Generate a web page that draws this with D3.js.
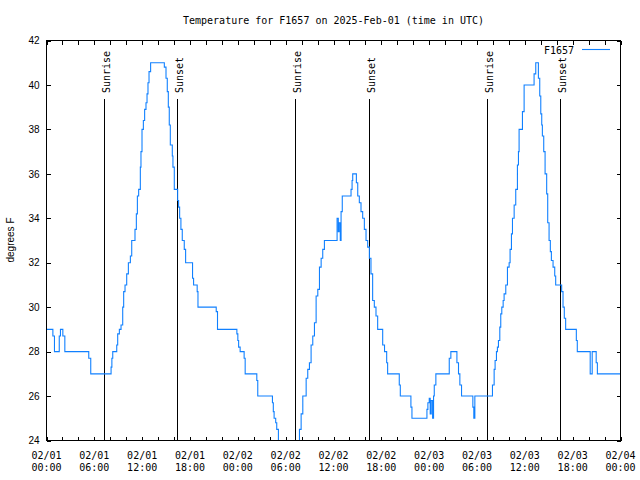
<!DOCTYPE html>
<html><head><meta charset="utf-8">
<script src="https://cdn.jsdelivr.net/npm/d3@7"></script>
<style>body{margin:0;background:#fff}</style>
</head><body>
<svg id="c" width="640" height="480"></svg>
<script>
const chartTitle = "Temperature for F1657 on 2025-Feb-01 (time in UTC)";
const seriesName = "F1657";
const yAxisLabel = "degrees F";
const startUTC = Date.UTC(2025, 1, 1, 0, 0, 0);
// hours since 02/01 00:00 UTC at which the reading changes, and the reading
const hours = [0,0.8,1.0,1.6,1.75,2.05,2.3,5.3,5.55,8.10,8.2,8.31,8.81,8.93,9.14,9.35,9.56,9.68,9.85,10.06,10.27,10.52,10.69,11.10,11.27,11.40,11.56,11.77,11.85,11.98,12.15,12.31,12.48,12.61,12.73,12.86,13.06,
14.78,14.99,15.15,15.28,15.40,15.53,15.78,15.86,16.03,16.45,16.57,16.70,16.86,17.03,17.28,17.45,18.32,18.45,18.9,19.0,21.29,21.45,23.88,24.0,24.1,24.29,24.79,24.92,26.38,26.5,28.34,28.45,28.55,28.75,28.88,29.09,29.2,29.5,31.2,
31.52,31.73,31.94,32.15,32.57,32.77,32.98,33.19,33.40,33.61,33.82,34.03,34.24,34.45,34.65,34.86,36.45,36.6,36.7,36.85,36.95,37.1,38.20,38.33,38.41,38.87,39.04,39.24,39.45,39.66,39.87,40.08,40.29,40.50,40.70,40.91,41.12,41.33,41.54,
42.17,42.4,42.67,42.79,44.25,44.38,45.71,45.84,47.72,47.84,48.01,48.13,48.26,48.43,48.55,48.64,48.84,50.52,50.72,51.48,51.68,51.85,52.06,53.48,53.60,53.73,
55.94,56.15,56.27,56.44,56.56,56.69,56.86,56.98,57.11,57.28,57.40,57.61,57.82,58.03,58.15,58.32,58.45,58.66,58.86,59.07,59.20,59.28,59.70,59.91,61.16,61.37,61.70,61.87,62.00,62.12,62.20,62.37,62.54,62.74,62.87,63.04,63.20,63.33,63.54,63.75,63.87,
64.62,64.79,64.95,65.12,66.46,66.58,68.2,68.45,68.95,69.1,72];
const temps = [29,28.7,28,28.7,29,28.7,28,27.7,27,27.3,27.7,28,28.3,28.8,29.0,29.2,30.0,30.7,31.0,31.5,32.0,32.3,33.0,33.5,34.2,35.0,35.3,36.3,37.0,38.0,38.4,38.9,39.2,39.6,40.1,40.6,41.0,
40.8,40.3,39.7,39.0,38.2,37.3,36.8,36.3,35.3,34.8,34.5,34.0,33.5,33.0,32.6,32.0,31.3,31.0,30.7,30.0,29.8,29.0,28.8,28.5,28.2,28.0,27.7,27.0,26.7,26.0,25.7,25.3,25.0,24.8,24.5,24.0,23.5,23.0,23.5,
24.0,24.5,25.2,26.0,26.8,27.2,27.5,28.3,28.7,29.3,30.5,30.8,31.8,32.2,32.6,33.0,34.0,33.4,33.8,33.0,34.3,35.0,35.3,35.7,36.0,35.6,35.0,34.7,34.3,34.0,33.5,33.0,32.7,32.2,31.5,30.3,30.0,29.6,29.0,
28.3,28.0,27.5,27.0,26.5,26.0,25.5,25.0,25.4,25.7,25.9,25.2,25.8,25.0,26.0,26.5,27.0,27.7,28.0,27.5,27.0,26.5,26.0,25.5,25.0,26.0,
26.5,27.2,27.6,28.0,28.2,28.5,29.1,29.7,30.0,30.3,30.6,31.0,31.8,32.0,32.6,33.3,34.0,34.6,35.3,36.4,37.0,38.0,38.8,40.0,40.5,41.0,40.3,39.5,38.7,38.2,37.7,37.0,36.0,35.1,33.8,33.0,32.5,32.1,31.8,31.4,31.0,
30.7,30.0,29.5,29.0,28.5,28.0,27.0,28.0,27.5,27.0,27.0];
const sunriseHours = [7.25, 31.22, 55.2];
const sunsetHours = [16.42, 40.46, 64.47];
const yTicks = [24, 26, 28, 30, 32, 34, 36, 38, 40, 42];
const xTickHours = [0,2,4,6,8,10,12,14,16,18,20,22,24,26,28,30,32,34,36,38,40,42,44,46,48,50,52,54,56,58,60,62,64,66,68,70,72];
const xLabelHours = [0,6,12,18,24,30,36,42,48,54,60,66,72];

const H = 3600 * 1000;
const toDate = h => new Date(startUTC + h * H);
const svg = d3.select("#c");
const L = 46.5, R = 620.5, T = 40.5, B = 440.5;
const x = d3.scaleUtc().domain([toDate(0), toDate(72)]).range([L, R]);
const y = d3.scaleLinear().domain([24, 42]).range([B, T]);
const mono = "'DejaVu Sans Mono', monospace";
const sans = "'Liberation Sans', Arial, sans-serif";

svg.append("rect").attr("width", 640).attr("height", 480).attr("fill", "#fff");

const styleAxis = g => { g.select(".domain").remove(); g.selectAll("line").attr("stroke", "#000").attr("shape-rendering", "crispEdges"); };
const xt = xTickHours.map(toDate);
svg.append("g").attr("transform", `translate(0,${B})`).call(d3.axisBottom(x).tickValues(xt).tickSize(-4).tickFormat("")).call(styleAxis);
svg.append("g").attr("transform", `translate(0,${T})`).call(d3.axisTop(x).tickValues(xt).tickSize(-4).tickFormat("")).call(styleAxis);
svg.append("g").attr("transform", `translate(${R},0)`).call(d3.axisRight(y).tickValues(yTicks).tickSize(-4).tickFormat("")).call(styleAxis);
const ya = svg.append("g").attr("transform", `translate(${L},0)`).call(d3.axisLeft(y).tickValues(yTicks).tickSize(-4).tickPadding(7).tickFormat(d3.format("d"))).call(styleAxis);
ya.selectAll("text").attr("font-family", sans).attr("font-size", 10).attr("fill", "#000");

const fmtD = d3.utcFormat("%m/%d"), fmtT = d3.utcFormat("%H:%M");
const xl = svg.append("g").attr("font-family", mono).attr("font-size", 10).attr("text-anchor", "middle");
xLabelHours.forEach(h => {
  const d = toDate(h);
  xl.append("text").attr("x", x(d)).attr("y", 459).text(fmtD(d));
  xl.append("text").attr("x", x(d)).attr("y", 471).text(fmtT(d));
});

const sun = [...sunriseHours.map(h => ({h, label: "Sunrise"})), ...sunsetHours.map(h => ({h, label: "Sunset"}))];
sun.forEach(s => {
  const sx = Math.round(x(toDate(s.h))) + 0.5;
  svg.append("line").attr("x1", sx).attr("x2", sx).attr("y1", 99).attr("y2", B).attr("stroke", "#000").attr("shape-rendering", "crispEdges");
  svg.append("text").attr("transform", `translate(${sx + 5},93) rotate(-90)`).attr("font-family", mono).attr("font-size", 10).text(s.label);
});

svg.append("clipPath").attr("id", "pc").append("rect").attr("x", L).attr("y", T).attr("width", R - L).attr("height", B - T);
const pts = hours.map((h, i) => ({t: toDate(h), v: temps[i]}));
svg.append("path").datum(pts).attr("clip-path", "url(#pc)")
  .attr("fill", "none").attr("stroke", "#1080ff").attr("stroke-width", 1.1)
  .attr("d", d3.line().x(d => x(d.t)).y(d => y(d.v)).curve(d3.curveStepAfter));

svg.append("rect").attr("x", L).attr("y", T).attr("width", R - L).attr("height", B - T).attr("fill", "none").attr("stroke", "#000").attr("shape-rendering", "crispEdges");

svg.append("text").attr("x", (L + R) / 2).attr("y", 24).attr("text-anchor", "middle").attr("font-family", mono).attr("font-size", 10).text(chartTitle);
svg.append("text").attr("transform", "translate(14,240) rotate(-90)").attr("text-anchor", "middle").attr("font-family", sans).attr("font-size", 10).text(yAxisLabel);

svg.append("text").attr("x", 574).attr("y", 53.5).attr("text-anchor", "end").attr("font-family", mono).attr("font-size", 10).text(seriesName);
svg.append("line").attr("x1", 582).attr("x2", 610).attr("y1", 49.5).attr("y2", 49.5).attr("stroke", "#1080ff").attr("stroke-width", 1.1);
</script>
</body></html>
